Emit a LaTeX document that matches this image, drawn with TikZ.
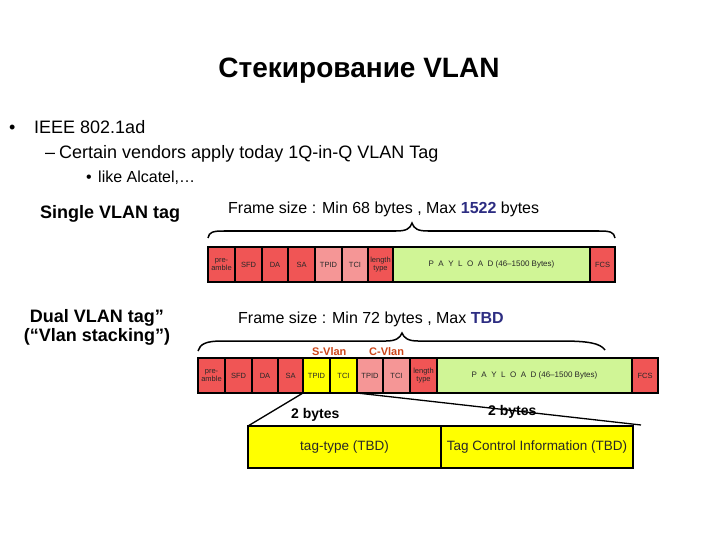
\documentclass[tikz,border=0pt]{standalone}
\usepackage{fontspec}
\setmainfont{Liberation Sans}
\definecolor{cred}{RGB}{240,85,85}
\definecolor{cpink}{RGB}{245,150,150}
\definecolor{cgreen}{RGB}{208,245,150}
\definecolor{cyel}{RGB}{255,255,0}
\definecolor{corange}{RGB}{205,70,25}
\definecolor{cblue}{RGB}{45,45,130}
\definecolor{ctxt}{RGB}{40,40,40}
\newcommand\payloadtext{{\fontsize{8}{9}\selectfont P\hspace{4.5pt}A\hspace{4.5pt}Y\hspace{4.5pt}L\hspace{4.5pt}O\hspace{4.5pt}A\hspace{4.5pt}D (46–1500 Bytes)}}
\tikzset{
  cell/.style={draw=black, line width=1.4pt, anchor=north west, minimum height=35pt,
    inner sep=0pt, outer sep=0pt, font=\fontsize{7.5}{8}\selectfont, text=ctxt, align=center},
  tagcell/.style={draw=black, line width=1.8pt, anchor=north west, minimum height=42pt,
    inner sep=0pt, outer sep=0pt, fill=cyel, font=\fontsize{13.5}{15}\selectfont, text=ctxt},
  brace/.style={draw=black, line width=1.5pt},
  conn/.style={draw=black, line width=1.3pt},
  txt/.style={anchor=base west, inner sep=0pt, font=\fontsize{#1}{#1}\selectfont},
  btxt/.style={anchor=base west, inner sep=0pt, font=\fontsize{#1}{#1}\selectfont\bfseries},
}
\begin{document}
\begin{tikzpicture}[x=1pt,y=-1pt]
\useasboundingbox[fill=white] (0,0) rectangle (720,540);
% title
\node[anchor=base, inner sep=0pt, font=\fontsize{28}{30}\selectfont\bfseries] (title) at (359,78) {Стекирование VLAN};
% bullets
\node[txt=18] (b1) at (9,133.5) {•};
\node[txt=18] (l1) at (34,133.5) {IEEE 802.1ad};
\node[txt=18] (b2) at (45,158.5) {–};
\node[txt=18] (l2) at (59,158.5) {Certain vendors apply today 1Q-in-Q VLAN Tag};
\node[txt=16] (b3) at (86,183) {•};
\node[txt=16] (l3) at (98,183) {like Alcatel,…};
% single tag
\node[btxt=18] (single) at (40,218.5) {Single VLAN tag};
\node[txt=16] (fs1) at (228,214) {Frame size : Min 68 bytes , Max {\bfseries\color{cblue}1522} bytes};
\draw[brace] (208,238) .. controls (209,232) and (213,231) .. (224,231) -- (396,231)
  .. controls (406,231) and (410,229) .. (412,223) .. controls (414,229) and (418,231) .. (428,231)
  -- (599,231) .. controls (610,231) and (614,232) .. (615,238);
% frame 1
\node[cell, fill=cred,  minimum width=27pt] (a1) at (208,247) {pre-\\amble};
\node[cell, fill=cred,  minimum width=27pt] (a2) at (235,247) {SFD};
\node[cell, fill=cred,  minimum width=26pt] (a3) at (262,247) {DA};
\node[cell, fill=cred,  minimum width=27pt] (a4) at (288,247) {SA};
\node[cell, fill=cpink, minimum width=27pt] (a5) at (315,247) {TPID};
\node[cell, fill=cpink, minimum width=26pt] (a6) at (342,247) {TCI};
\node[cell, fill=cred,  minimum width=25pt] (a7) at (368,247) {length\\type};
\node[cell, fill=cgreen,minimum width=197pt] (a8) at (393,247) {\payloadtext};
\node[cell, fill=cred,  minimum width=25pt] (a9) at (590,247) {FCS};
% dual tag
\node[align=center, inner sep=0pt, font=\fontsize{18}{19}\selectfont\bfseries] (dual) at (97,327) {Dual VLAN tag”\\(“Vlan stacking”)};
\node[txt=16] (fs2) at (238,323) {Frame size : Min 72 bytes , Max {\bfseries\color{cblue}TBD}};
\draw[brace] (198,351) .. controls (200,344) and (206,341) .. (222,341) -- (386,341)
  .. controls (396,341) and (400,338) .. (402,333) .. controls (404,338) and (408,341) .. (418,341)
  -- (560,341) .. controls (588,341) and (600,343) .. (605,350);
\node[btxt=11, text=corange] (sv) at (312,355) {S-Vlan};
\node[btxt=11, text=corange] (cv) at (369,355) {C-Vlan};
% frame 2
\node[cell, fill=cred,  minimum width=27pt] (d1) at (198,358) {pre-\\amble};
\node[cell, fill=cred,  minimum width=27pt] (d2) at (225,358) {SFD};
\node[cell, fill=cred,  minimum width=26pt] (d3) at (252,358) {DA};
\node[cell, fill=cred,  minimum width=25pt] (d4) at (278,358) {SA};
\node[cell, fill=cyel,  minimum width=27pt] (d5) at (303,358) {TPID};
\node[cell, fill=cyel,  minimum width=27pt] (d6) at (330,358) {TCI};
\node[cell, fill=cpink, minimum width=26pt] (d7) at (357,358) {TPID};
\node[cell, fill=cpink, minimum width=27pt] (d8) at (383,358) {TCI};
\node[cell, fill=cred,  minimum width=27pt] (d9) at (410,358) {length\\type};
\node[cell, fill=cgreen,minimum width=195pt] (d10) at (437,358) {\payloadtext};
\node[cell, fill=cred,  minimum width=26pt] (d11) at (632,358) {FCS};
% tag detail
\node[tagcell, minimum width=193pt] (tt) at (248,426) {tag-type (TBD)};
\node[tagcell, minimum width=192pt] (tci) at (441,426) {Tag Control Information (TBD)};
\node[btxt=14] (by1) at (291,418) {2 bytes};
\node[btxt=14] (by2) at (488,415) {2 bytes};
\coordinate (lend) at (641,425);
\draw[conn] (d5.south west) -- (tt.north west);
\draw[conn] (d7.south west) -- (lend);
\end{tikzpicture}
\end{document}
